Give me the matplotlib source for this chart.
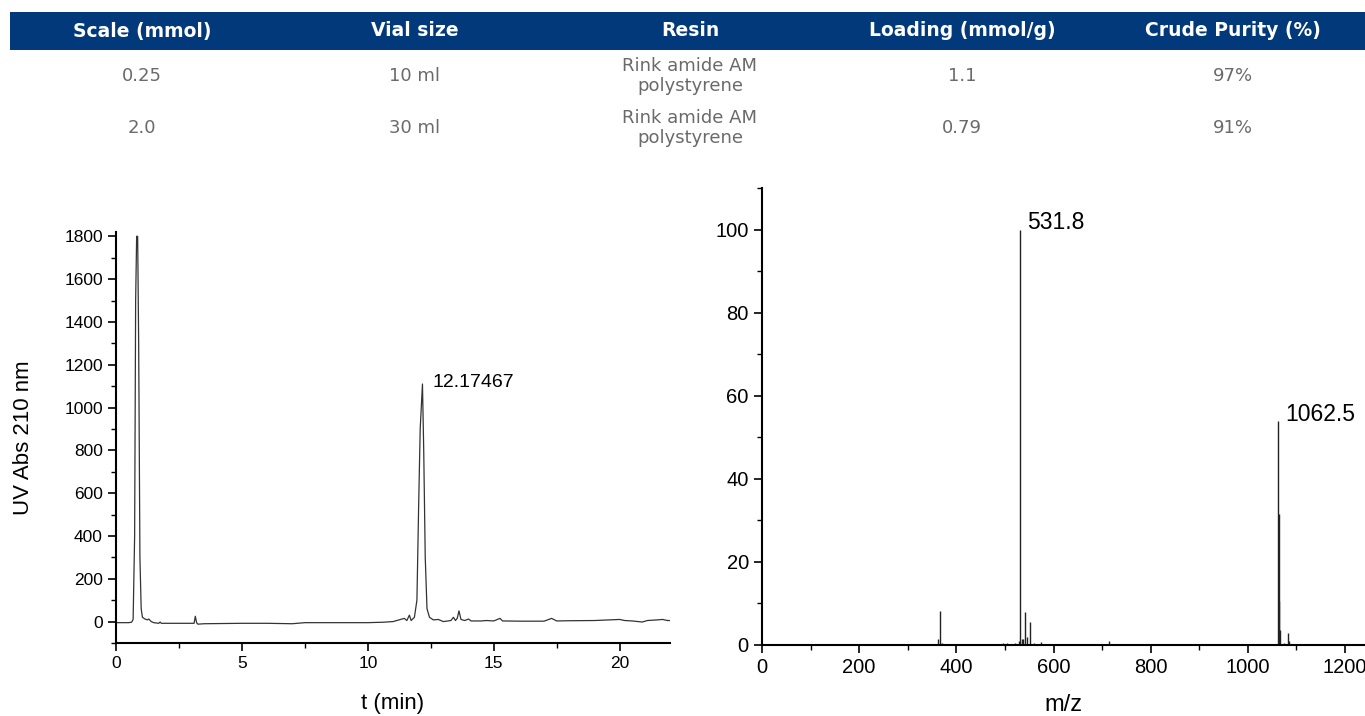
import matplotlib.pyplot as plt
from matplotlib.patches import Rectangle
from matplotlib.ticker import MultipleLocator

# table contents
headers = ['Scale (mmol)', 'Vial size', 'Resin', 'Loading (mmol/g)', 'Crude Purity (%)']
row1 = ['0.25', '10 ml', 'Rink amide AM\npolystyrene', '1.1', '97%']
row2 = ['2.0', '30 ml', 'Rink amide AM\npolystyrene', '0.79', '91%']

# HPLC trace (t in min, UV abs)
t_min = [0.0, 0.5, 0.62, 0.68, 0.74, 0.78, 0.82, 0.86, 0.9, 0.95, 1.0, 1.05, 1.15, 1.25, 1.3, 1.4,
         1.5, 1.7, 1.75, 1.8, 2.5, 3.1, 3.15, 3.2, 3.25, 3.5, 5.0, 6.0, 7.0, 7.5, 9.0, 10.0, 10.6,
         11.0, 11.3, 11.45, 11.55, 11.65, 11.72, 11.85, 11.95, 12.02, 12.08, 12.17, 12.22, 12.28,
         12.35, 12.45, 12.6, 12.8, 13.0, 13.3, 13.4, 13.48, 13.55, 13.62, 13.7, 13.85, 14.0, 14.1,
         14.5, 14.7, 15.0, 15.25, 15.35, 16.0, 17.0, 17.3, 17.5, 18.0, 19.0, 20.0, 20.2, 20.5,
         20.9, 21.1, 21.5, 21.7, 21.9, 22.0]
uv_abs = [-5, -5, -3, 10, 400, 1500, 1800, 1800, 1300, 300, 60, 20, 12, 8, 12, 0,
          -5, -8, -2, -8, -8, -8, 25, -5, -12, -10, -8, -8, -10, -5, -5, -5, -3,
          0, 10, 15, 5, 30, 5, 20, 100, 550, 900, 1110, 800, 300,
          60, 20, 8, 10, 0, 5, 20, 5, 15, 50, 10, 5, 12, 3,
          3, 5, 3, 15, 3, 2, 2, 15, 3, 4, 5, 10, 5, 3,
          -2, 5, 8, 10, 5, 5]

# mass spectrum sticks
mz = [362, 366, 370, 485, 495, 505, 520, 528, 531.8, 535, 538, 542, 546, 551, 560, 575,
      715, 720, 730, 895, 1062.5, 1063.5, 1064.5, 1066, 1075, 1082, 1085, 1090]
intensity = [1.5, 8.3, 0.5, 0.3, 0.5, 0.5, 0.5, 1.0, 100, 1.5, 1.5, 8.0, 2.0, 5.5, 0.5, 0.8,
             1.0, 0.3, 0.3, 0.3, 53.8, 31.5, 10.5, 3.5, 0.5, 2.8, 1.0, 0.3]

plt.rcParams['font.family'] = ['Liberation Sans', 'DejaVu Sans']
fig = plt.figure(figsize=(13.65, 7.16), dpi=100)

# --- table ---
fig.patches.append(Rectangle((0.0073, 0.930), 0.9927, 0.053, transform=fig.transFigure,
                             facecolor='#02397a', edgecolor='none'))
col_x = [142, 415, 690, 962, 1233]
for x, h, a, b in zip(col_x, headers, row1, row2):
    fx = x / 1365
    fig.text(fx, 1 - 31 / 716, h, ha='center', va='center', color='white',
             fontsize=13.5, fontweight='bold', family='DejaVu Sans')
    fig.text(fx, 1 - 76 / 716, a, ha='center', va='center', color='#6a6a6a',
             fontsize=13, family='DejaVu Sans', linespacing=1.1)
    fig.text(fx, 1 - 128 / 716, b, ha='center', va='center', color='#6a6a6a',
             fontsize=13, family='DejaVu Sans', linespacing=1.1)

# --- HPLC ---
ax1 = fig.add_axes([116 / 1365, 1 - 643 / 716, (670 - 116) / 1365, (643 - 232) / 716])
ax1.plot(t_min, uv_abs, color='#333333', lw=0.9)
ax1.set_xlim(0, 22)
ax1.set_ylim(-100, 1820)
ax1.xaxis.set_major_locator(MultipleLocator(5))
ax1.xaxis.set_minor_locator(MultipleLocator(2.5))
ax1.yaxis.set_major_locator(MultipleLocator(200))
ax1.yaxis.set_minor_locator(MultipleLocator(100))
ax1.set_xlabel('t (min)', fontsize=16, labelpad=16)
ax1.set_ylabel('UV Abs 210 nm', fontsize=16, labelpad=22)
ax1.annotate('12.17467', xy=(12.17, 1110), xytext=(7, -5), textcoords='offset points',
             fontsize=14, ha='left', va='bottom')
ax1.tick_params(which='major', labelsize=12.5)

# --- MS ---
ax2 = fig.add_axes([762 / 1365, 1 - 645 / 716, (1365 - 762) / 1365, (645 - 188) / 716])
ax2.vlines(mz, 0, intensity, color='#222222', lw=1.0)
ax2.set_xlim(0, 1241)
ax2.set_ylim(0, 110)
ax2.xaxis.set_major_locator(MultipleLocator(200))
ax2.xaxis.set_minor_locator(MultipleLocator(100))
ax2.yaxis.set_major_locator(MultipleLocator(20))
ax2.yaxis.set_minor_locator(MultipleLocator(10))
ax2.set_xlabel('m/z', fontsize=17, labelpad=12)
ax2.annotate('531.8', xy=(531.8, 100), xytext=(5, -3), textcoords='offset points',
             fontsize=16.5, ha='left', va='bottom')
ax2.annotate('1062.5', xy=(1062.5, 53.8), xytext=(5, -3), textcoords='offset points',
             fontsize=16.5, ha='left', va='bottom')
ax2.tick_params(which='major', labelsize=14.5)

for ax in (ax1, ax2):
    ax.spines['top'].set_visible(False)
    ax.spines['right'].set_visible(False)
    ax.spines['left'].set_linewidth(1.5)
    ax.spines['bottom'].set_linewidth(1.5)
    ax.tick_params(which='major', direction='out', length=6, width=1.2)
    ax.tick_params(which='minor', direction='out', length=3.5, width=1.0)
    ax.set_facecolor('none')

fig.savefig('out.png', dpi=100)
